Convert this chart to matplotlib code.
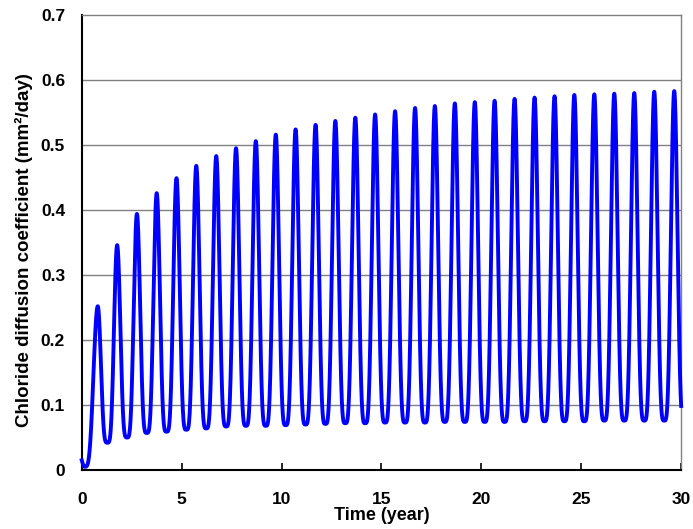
import numpy as np
import matplotlib
matplotlib.use("Agg")
import matplotlib.pyplot as plt

plt.rcParams['font.family'] = ['Liberation Sans', 'DejaVu Sans']
plt.rcParams['font.weight'] = 'bold'

# Peak times (year) and peak values (mm2/day)
peak_times = [0.80, 1.77, 2.76, 3.75, 4.74, 5.73, 6.73, 7.72, 8.71, 9.71,
              10.70, 11.70, 12.69, 13.69, 14.68, 15.68, 16.68, 17.67, 18.67, 19.67,
              20.66, 21.66, 22.66, 23.66, 24.65, 25.65, 26.65, 27.65, 28.65, 29.65]
peak_vals = [0.252, 0.346, 0.394, 0.426, 0.449, 0.468, 0.483, 0.495, 0.506, 0.516,
             0.524, 0.531, 0.537, 0.542, 0.547, 0.552, 0.557, 0.560, 0.564, 0.566,
             0.568, 0.571, 0.573, 0.575, 0.577, 0.578, 0.579, 0.580, 0.582, 0.583]
# Trough values: the first one before peak 1, then one after each peak
trough_vals = [0.005, 0.042, 0.050, 0.057, 0.059, 0.062, 0.064, 0.067, 0.068, 0.068,
               0.069, 0.070, 0.071, 0.072, 0.072, 0.073, 0.073, 0.073, 0.074, 0.074,
               0.074, 0.074, 0.075, 0.075, 0.075, 0.075, 0.076, 0.076, 0.076, 0.076, 0.076]
start_time, start_val = 0.0, 0.015
first_trough_time = 0.14
t_end = 30.0

# trough times sit halfway between neighbouring peaks
trough_times = [first_trough_time]
for i in range(len(peak_times) - 1):
    trough_times.append(0.5 * (peak_times[i] + peak_times[i + 1]))
trough_times.append(peak_times[-1] + 0.5)

# build the curve trough -> peak -> trough with a smooth cycle profile
ts = [np.linspace(start_time, first_trough_time, 10)]
vs = [start_val + (trough_vals[0] - start_val) * np.sin(np.linspace(0, np.pi / 2, 10))]
for k in range(len(peak_times)):
    # rise
    u = np.linspace(0, 1, 80)
    tr = trough_times[k] + u * (peak_times[k] - trough_times[k])
    vr = trough_vals[k] + (peak_vals[k] - trough_vals[k]) * np.sin(np.pi * u / 2) ** 4
    # fall
    tf = peak_times[k] + u * (trough_times[k + 1] - peak_times[k])
    vf = trough_vals[k + 1] + (peak_vals[k] - trough_vals[k + 1]) * np.cos(np.pi * u / 2) ** 4
    ts += [tr, tf]
    vs += [vr, vf]
t = np.concatenate(ts)
v = np.concatenate(vs)
mask = t <= t_end
t, v = t[mask], v[mask]

fig = plt.figure(figsize=(6.93, 5.29), dpi=100)
ax = fig.add_axes([0.118, 0.1115, 0.865, 0.8601])

for yv in np.arange(0.1, 0.65, 0.1):
    ax.axhline(yv, color='#808080', lw=1.0, zorder=1)
ax.plot(t, v, color='#0000FF', lw=2.8, zorder=3, clip_on=False)

ax.set_xlim(0, 30)
ax.set_ylim(0, 0.7)
ax.set_xticks(np.arange(0, 31, 5))
ax.set_yticks(np.arange(0, 0.71, 0.1))
ax.set_yticklabels(['0'] + ['%.1f' % y for y in np.arange(0.1, 0.71, 0.1)])

ax.tick_params(axis='x', direction='in', length=5, width=1.2, pad=16, labelsize=12.5)
ax.tick_params(axis='y', length=0, pad=12, labelsize=12.5)

for s in ['left', 'bottom']:
    ax.spines[s].set_color('black')
    ax.spines[s].set_linewidth(1.5)
for s in ['top', 'right']:
    ax.spines[s].set_color('#808080')
    ax.spines[s].set_linewidth(1.0)

ax.set_xlabel('Time (year)', fontsize=13, fontweight='bold', labelpad=0)
ax.set_ylabel('Chloride diffusion coefficient (mm²/day)', fontsize=13.5,
              fontweight='bold')
ax.yaxis.set_label_coords(-0.082, 0.4835)

fig.savefig('out.png', dpi=100)
